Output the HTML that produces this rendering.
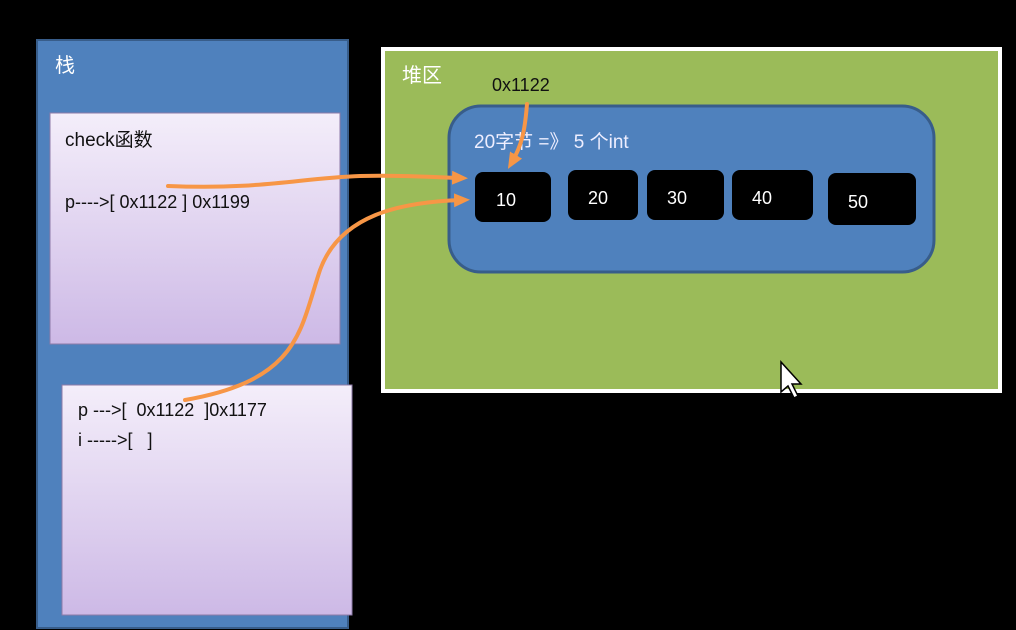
<!DOCTYPE html>
<html><head><meta charset="utf-8"><style>
html,body{margin:0;padding:0;background:#000;}
svg{display:block}
text{font-family:"Liberation Sans","Noto Sans CJK SC",sans-serif;white-space:pre;}
</style></head><body>
<svg width="1016" height="630" viewBox="0 0 1016 630">
<defs>
<linearGradient id="lav" x1="0" y1="0" x2="0" y2="1">
<stop offset="0" stop-color="#f4eefa"/><stop offset="1" stop-color="#cdb9e6"/>
</linearGradient>
<marker id="ah" markerWidth="16" markerHeight="16" refX="8" refY="8" orient="auto" markerUnits="userSpaceOnUse">
<path d="M0,1 L16,8 L0,15 z" fill="#f79646"/>
</marker>
</defs>
<rect width="1016" height="630" fill="#000"/>
<g>
<rect x="37" y="40" width="311" height="588" fill="#4f81bd" stroke="#385d8a" stroke-width="2"/>
<text x="55" y="72" font-size="20" fill="#fff">栈</text>
</g>
<g>
<rect x="50" y="113" width="290" height="231" fill="url(#lav)" stroke="#8d7aa8" stroke-width="1"/>
<text x="65" y="146" font-size="19" fill="#111">check函数</text>
<text x="65" y="208" font-size="18" fill="#111">p----&gt;[ 0x1122 ] 0x1199</text>
</g>
<g>
<rect x="62" y="385" width="290" height="230" fill="url(#lav)" stroke="#8d7aa8" stroke-width="1"/>
<text x="78" y="416" font-size="18" fill="#111">p ---&gt;[  0x1122  ]0x1177</text>
<text x="78" y="446" font-size="18" fill="#111">i -----&gt;[   ]</text>
</g>
<g>
<rect x="383" y="49" width="617" height="342" fill="#9bbb59" stroke="#fff" stroke-width="4"/>
<text x="402" y="82" font-size="20" fill="#fff">堆区</text>
<text x="492" y="91" font-size="18" fill="#111">0x1122</text>
</g>
<g>
<rect x="449" y="106" width="485" height="166" rx="32" fill="#4f81bd" stroke="#385d8a" stroke-width="3"/>
<text x="474" y="148" font-size="19" fill="#eef">20字节 =》 5 个int</text>
</g>
<g>
<rect x="475" y="172" width="76" height="50" rx="8" fill="#000"/>
<text x="496" y="206" font-size="18" fill="#fff">10</text>
<rect x="568" y="170" width="70" height="50" rx="8" fill="#000"/>
<text x="588" y="204" font-size="18" fill="#fff">20</text>
<rect x="647" y="170" width="77" height="50" rx="8" fill="#000"/>
<text x="667" y="204" font-size="18" fill="#fff">30</text>
<rect x="732" y="170" width="81" height="50" rx="8" fill="#000"/>
<text x="752" y="204" font-size="18" fill="#fff">40</text>
<rect x="828" y="173" width="88" height="52" rx="8" fill="#000"/>
<text x="848" y="208" font-size="18" fill="#fff">50</text>
</g>
<g fill="none" stroke="#f79646" stroke-width="4" stroke-linecap="round">
<path d="M168,186 C260,190 300,178 360,176 C400,175 430,177 460,178" marker-end="url(#ah)"/>
<path d="M185,400 C300,380 300,330 320,270 C340,215 400,202 462,200" marker-end="url(#ah)"/>
<path d="M527,104 C525,130 522,145 512,162" marker-end="url(#ah)"/>
</g>
<g>
<path d="M781,362 L781,392 L788,386 L794,398 L798,396 L792,384 L801,384 Z" fill="#fff" stroke="#000" stroke-width="1.5"/>
</g>
</svg>
</body></html>
